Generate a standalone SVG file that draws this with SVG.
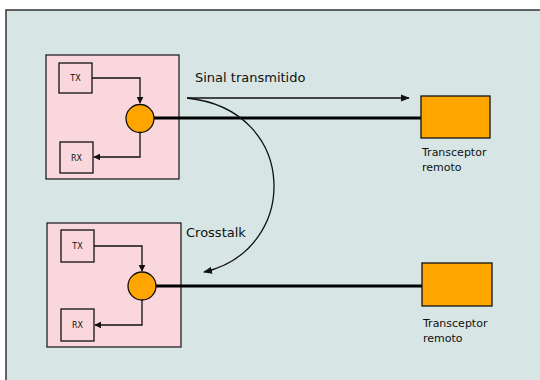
<svg xmlns="http://www.w3.org/2000/svg" width="540" height="380" viewBox="0 0 540 380">
<style>
.bg{fill:#d7e5e4;stroke:#333;stroke-width:1.5}
.box{fill:#fad7dc;stroke:#222;stroke-width:1.3}
.sm{fill:#fad7dc;stroke:#111;stroke-width:1.3}
.orange{fill:#ffa500;stroke:#111;stroke-width:1.3}
.thin{fill:none;stroke:#111;stroke-width:1.3}
.thick{fill:none;stroke:#000;stroke-width:3}
text{font-family:"DejaVu Sans","Liberation Sans",sans-serif;fill:#111}
.t8{font-size:8px}
.t10{font-size:11px}
.t13{font-size:13px}
</style>
<defs>
<marker id="ah" viewBox="0 0 10 10" refX="9" refY="5" markerWidth="7" markerHeight="7" markerUnits="userSpaceOnUse" orient="auto">
<path d="M0,0 L10,5 L0,10 z" fill="#111"/>
</marker>
<marker id="ahl" viewBox="0 0 10 10" refX="9" refY="5" markerWidth="9" markerHeight="9" markerUnits="userSpaceOnUse" orient="auto">
<path d="M0,1 L10,5 L0,9 z" fill="#111"/>
</marker>
</defs>
<rect class="bg" x="6" y="10" width="545" height="380"/>
<g id="local1">
<rect class="box" x="46" y="55" width="133" height="124"/>
</g>
<g id="tx1"><rect class="sm" x="59" y="63" width="33" height="30"/><text class="t8" x="75.5" y="81" text-anchor="middle">TX</text></g>
<g id="rx1"><rect class="sm" x="60" y="142" width="33" height="31"/><text class="t8" x="76.5" y="160.5" text-anchor="middle">RX</text></g>
<g id="local2">
<rect class="box" x="47" y="223" width="134" height="124"/>
</g>
<g id="tx2"><rect class="sm" x="61" y="230" width="33" height="32"/><text class="t8" x="77.5" y="249" text-anchor="middle">TX</text></g>
<g id="rx2"><rect class="sm" x="61" y="309" width="33" height="32"/><text class="t8" x="77.5" y="328" text-anchor="middle">RX</text></g>
<g id="connectors">
<path class="thin" d="M92,78 H140 V103" marker-end="url(#ah)"/>
<path class="thin" d="M140,133 V157 H94" marker-end="url(#ah)"/>
<path class="thick" d="M154,118 H421"/>
<path class="thin" d="M94,246 H142 V271" marker-end="url(#ah)"/>
<path class="thin" d="M142,300 V325 H95" marker-end="url(#ah)"/>
<path class="thick" d="M156,286 H422"/>
<path class="thin" d="M187,98 H409" marker-end="url(#ahl)"/>
<path class="thin" d="M187,98 C300,110 300,250 204,272" marker-end="url(#ahl)"/>
</g>
<g id="hybrid1"><circle class="orange" cx="140" cy="118.5" r="14"/></g>
<g id="hybrid2"><circle class="orange" cx="142" cy="286" r="14"/></g>
<g id="remote1">
<rect class="orange" x="421" y="96" width="69" height="42"/>
<text class="t10" x="422" y="156">Transceptor</text>
<text class="t10" x="422" y="171">remoto</text>
</g>
<g id="remote2">
<rect class="orange" x="422" y="263" width="70" height="43"/>
<text class="t10" x="423" y="327">Transceptor</text>
<text class="t10" x="423" y="342">remoto</text>
</g>
<text class="t13" x="195" y="82">Sinal transmitido</text>
<text class="t13" x="186" y="237">Crosstalk</text>
</svg>
